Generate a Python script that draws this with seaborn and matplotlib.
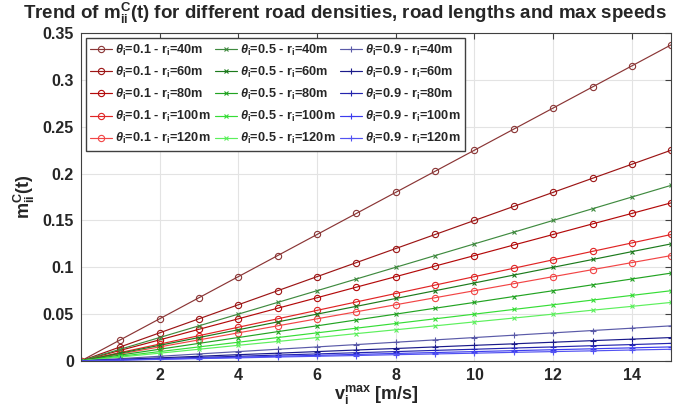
import pandas as pd
import matplotlib
matplotlib.use('Agg')
import matplotlib.pyplot as plt
import seaborn as sns

# speeds v_i^max [m/s]
v = list(range(16))

# m_ii^C(t), theta = 0.1
t01_r40 = [0, .0225, .045, .0675, .09, .1125, .135, .1575, .18, .2025, .225, .2475, .27, .2925, .315, .3375]
t01_r60 = [0, .015, .03, .045, .06, .075, .09, .105, .12, .135, .15, .165, .18, .195, .21, .225]
t01_r80 = [0, .0113, .0225, .0338, .045, .0563, .0675, .0788, .09, .1013, .1125, .1238, .135, .1463, .1575, .1688]
t01_r100 = [0, .009, .018, .027, .036, .045, .054, .063, .072, .081, .09, .099, .108, .117, .126, .135]
t01_r120 = [0, .0075, .015, .0225, .03, .0375, .045, .0525, .06, .0675, .075, .0825, .09, .0975, .105, .1125]
# theta = 0.5
t05_r40 = [0, .0125, .025, .0375, .05, .0625, .075, .0875, .1, .1125, .125, .1375, .15, .1625, .175, .1875]
t05_r60 = [0, .0083, .0167, .025, .0333, .0417, .05, .0583, .0667, .075, .0833, .0917, .1, .1083, .1167, .125]
t05_r80 = [0, .0063, .0125, .0188, .025, .0313, .0375, .0438, .05, .0563, .0625, .0688, .075, .0813, .0875, .0938]
t05_r100 = [0, .005, .01, .015, .02, .025, .03, .035, .04, .045, .05, .055, .06, .065, .07, .075]
t05_r120 = [0, .0042, .0083, .0125, .0167, .0208, .025, .0292, .0333, .0375, .0417, .0458, .05, .0542, .0583, .0625]
# theta = 0.9
t09_r40 = [0, .0025, .005, .0075, .01, .0125, .015, .0175, .02, .0225, .025, .0275, .03, .0325, .035, .0375]
t09_r60 = [0, .0017, .0033, .005, .0067, .0083, .01, .0117, .0133, .015, .0167, .0183, .02, .0217, .0233, .025]
t09_r80 = [0, .0013, .0025, .0038, .005, .0063, .0075, .0088, .01, .0113, .0125, .0138, .015, .0163, .0175, .0188]
t09_r100 = [0, .001, .002, .003, .004, .005, .006, .007, .008, .009, .01, .011, .012, .013, .014, .015]
t09_r120 = [0, .0008, .0017, .0025, .0033, .0042, .005, .0058, .0067, .0075, .0083, .0092, .01, .0108, .0117, .0125]

thetas = ['0.1', '0.5', '0.9']
roads = ['40', '60', '80', '100', '120']
series = {
    '0.1': [t01_r40, t01_r60, t01_r80, t01_r100, t01_r120],
    '0.5': [t05_r40, t05_r60, t05_r80, t05_r100, t05_r120],
    '0.9': [t09_r40, t09_r60, t09_r80, t09_r100, t09_r120],
}

colors = {
    '0.1': ['#8a3535', '#9c1515', '#b30a0a', '#e02424', '#f24545'],
    '0.5': ['#3f8a3f', '#1c7a1c', '#22a322', '#36dd36', '#5cf05c'],
    '0.9': ['#5a5aa8', '#1a1a8a', '#2424ad', '#3c3cee', '#5252f2'],
}
markers = {'0.1': 'o', '0.5': 'x', '0.9': '+'}
msizes = {'0.1': 4.5, '0.5': 3, '0.9': 5}

sns.set_style('whitegrid')
plt.rcParams['font.family'] = ['Liberation Sans', 'DejaVu Sans']
plt.rcParams['font.weight'] = 'bold'
plt.rcParams['mathtext.fontset'] = 'custom'
plt.rcParams['mathtext.rm'] = 'Liberation Sans:bold'
plt.rcParams['mathtext.bf'] = 'Liberation Sans:bold'
plt.rcParams['mathtext.it'] = 'Liberation Sans:italic'
plt.rcParams['mathtext.default'] = 'bf'

fig = plt.figure(figsize=(6.74, 4.13), dpi=100)
ax = fig.add_axes([0.120, 0.126, 0.876, 0.794])

for th in thetas:
    for k, r in enumerate(roads):
        df = pd.DataFrame({'v': v, 'm': series[th][k]})
        lbl = r'$\mathit{\theta}_i$=' + th + ' - r$_i$=' + r + 'm'
        sns.lineplot(data=df, x='v', y='m', ax=ax, color=colors[th][k], lw=0.85,
                     marker=markers[th], markersize=msizes[th],
                     markerfacecolor='none', markeredgecolor=colors[th][k],
                     markeredgewidth=0.8, label=lbl)

ax.set_xlim(0, 15)
ax.set_ylim(0, 0.35)
ax.set_xticks([2, 4, 6, 8, 10, 12, 14])
ax.set_yticks([0, 0.05, 0.1, 0.15, 0.2, 0.25, 0.3, 0.35])
ax.set_yticklabels(['0', '0.05', '0.1', '0.15', '0.2', '0.25', '0.3', '0.35'])
ax.tick_params(labelsize=11.5, direction='in', length=4, top=True, right=True, color='#404040', pad=5)
for s in ax.spines.values():
    s.set_color('#404040')
    s.set_linewidth(0.8)
ax.grid(color='#e3e3e3', lw=0.8)

fig.text(0.512, 0.955, r'Trend of m$_{ii}^{C}$(t) for different road densities, road lengths and max speeds',
         fontsize=13.5, fontweight='bold', ha='center', va='baseline')
ax.set_xlabel(r'v$_i^{max}$ [m/s]', fontsize=13, fontweight='bold', labelpad=0)
ax.set_ylabel(r'm$_{ii}^{C}$(t)', fontsize=13, fontweight='bold', labelpad=4)

ax.legend(ncol=3, loc='upper left', fontsize=9.2, frameon=True, fancybox=False,
          edgecolor='#404040', framealpha=1, handlelength=1.7, columnspacing=0.4,
          labelspacing=0.55, borderaxespad=0.4, handletextpad=0.2, borderpad=0.35)

fig.savefig('out.png', dpi=100)
